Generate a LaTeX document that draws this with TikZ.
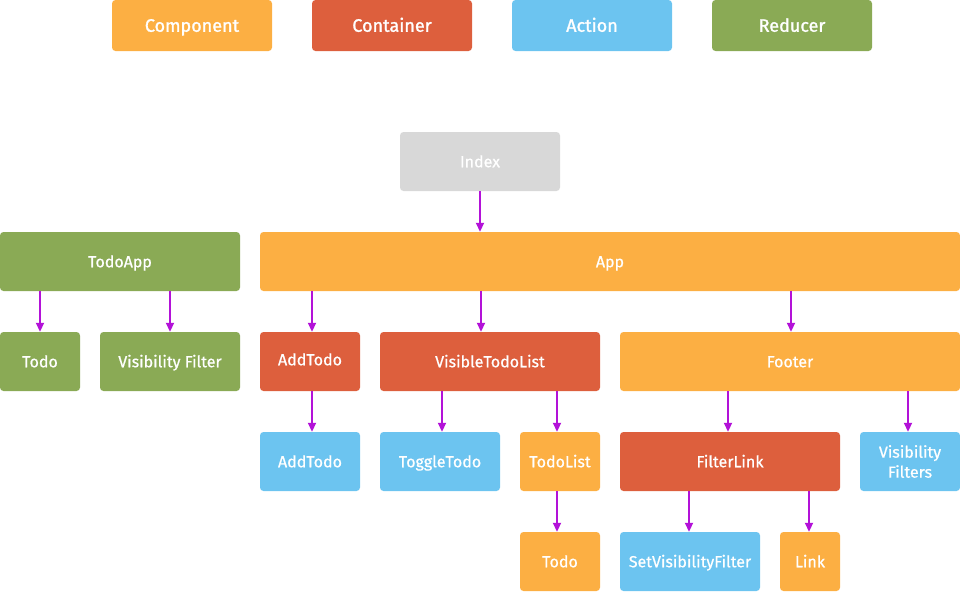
\documentclass[tikz,border=0pt]{standalone}
\usepackage{fontspec}
\setmainfont{Fira Sans}
\newfontfamily\treefont[FakeBold=0.7]{Fira Sans}
\newfontfamily\legfont[FakeBold=1.4]{Fira Sans}
\usetikzlibrary{arrows.meta}
\definecolor{cComp}{HTML}{FCAF43}
\definecolor{cCont}{HTML}{DD5F3D}
\definecolor{cAct}{HTML}{6CC4F0}
\definecolor{cRed}{HTML}{8AAA55}
\definecolor{cIdx}{HTML}{D8D8D8}
\definecolor{cArr}{HTML}{B312D8}
\tikzset{
  bx/.style={rounded corners=3.5pt, inner sep=0pt, text=white, font=\treefont\fontsize{16}{19}\selectfont, minimum height=59pt, align=center, text height=11.5pt, text depth=0pt},
  comp/.style={bx, fill=cComp},
  cont/.style={bx, fill=cCont},
  act/.style={bx, fill=cAct},
  red/.style={bx, fill=cRed},
  idx/.style={bx, fill=cIdx},
  leg/.style={minimum width=160pt, minimum height=51pt, font=\legfont\fontsize{18}{20}\selectfont, text height=12.5pt},
  arr/.style={draw=cArr, line width=1.8pt, -{Triangle[width=8pt,length=9pt]}},
}
\begin{document}
\begin{tikzpicture}[x=1pt,y=-1pt]
\useasboundingbox (0,0) rectangle (960,592);
% legend
\node[comp, leg] (lcomp) at (192,25.5) {Component};
\node[cont, leg] (lcont) at (392,25.5) {Container};
\node[act, leg] (lact) at (592,25.5) {Action};
\node[red, leg] (lred) at (792,25.5) {Reducer};
% tree
\node[idx, minimum width=160pt] (index) at (480,161.5) {Index};
\node[red, minimum width=240pt] (todoapp) at (120,261.5) {TodoApp};
\node[comp, minimum width=700pt] (app) at (610,261.5) {App};
\node[red, minimum width=80pt] (todoL) at (40,361.5) {Todo};
\node[red, minimum width=140pt] (visfilter) at (170,361.5) {Visibility Filter};
\node[cont, minimum width=100pt] (addtodoC) at (310,361.5) {\raisebox{2pt}{AddTodo}};
\node[cont, minimum width=220pt] (vtl) at (490,361.5) {VisibleTodoList};
\node[comp, minimum width=340pt] (footer) at (790,361.5) {Footer};
\node[act, minimum width=100pt] (addtodoA) at (310,461.5) {AddTodo};
\node[act, minimum width=120pt] (toggle) at (440,461.5) {ToggleTodo};
\node[comp, minimum width=80pt] (todolist) at (560,461.5) {TodoList};
\node[cont, minimum width=220pt] (filterlink) at (730,461.5) {FilterLink};
\node[act, minimum width=100pt, font=\treefont\fontsize{16}{20}\selectfont, text height=, text depth=] (visfilters) at (910,461.5) {Visibility\\Filters};
\node[comp, minimum width=80pt] (todoB) at (560,561.5) {Todo};
\node[act, minimum width=140pt] (setvis) at (690,561.5) {SetVisibilityFilter};
\node[comp, minimum width=60pt] (link) at (810,561.5) {Link};
% connectors
\draw[arr] (index.south) -- (app.north -| index.south);
\draw[arr] (todoapp.south -| todoL.north) -- (todoL.north);
\draw[arr] (todoapp.south -| visfilter.north) -- (visfilter.north);
\draw[arr] ([xshift=2pt]app.south -| addtodoC.north) -- ([xshift=2pt]addtodoC.north);
\draw[arr] ([xshift=-9pt]app.south -| vtl.north) -- ([xshift=-9pt]vtl.north);
\draw[arr] ([xshift=1pt]app.south -| footer.north) -- ([xshift=1pt]footer.north);
\draw[arr] ([xshift=2pt]addtodoC.south) -- ([xshift=2pt]addtodoA.north);
\draw[arr] ([xshift=2pt]vtl.south -| toggle.north) -- ([xshift=2pt]toggle.north);
\draw[arr] ([xshift=-3pt]vtl.south -| todolist.north) -- ([xshift=-3pt]todolist.north);
\draw[arr] ([xshift=-3pt]todolist.south) -- ([xshift=-3pt]todoB.north);
\draw[arr] ([xshift=-2pt]footer.south -| filterlink.north) -- ([xshift=-2pt]filterlink.north);
\draw[arr] ([xshift=-2pt]footer.south -| visfilters.north) -- ([xshift=-2pt]visfilters.north);
\draw[arr] ([xshift=-1pt]filterlink.south -| setvis.north) -- ([xshift=-1pt]setvis.north);
\draw[arr] ([xshift=-1pt]filterlink.south -| link.north) -- ([xshift=-1pt]link.north);
\end{tikzpicture}
\end{document}
